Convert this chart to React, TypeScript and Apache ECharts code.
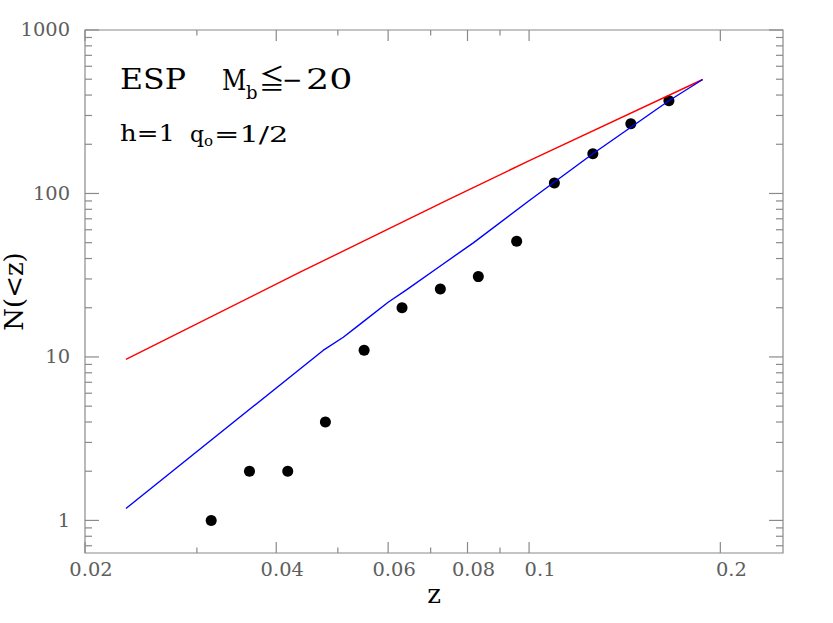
import React, { useEffect, useRef } from 'react';
import * as echarts from 'echarts';

// ---- data ----
const zData = [0.0316, 0.0363, 0.0417, 0.0478, 0.055, 0.0631, 0.0725, 0.0832, 0.0956, 0.1096, 0.126, 0.1446, 0.166];
const nData = [1, 2, 2, 4, 11, 20, 26, 31, 51, 116, 175, 267, 369];

const redZ = [0.0232, 0.0436, 0.0742, 0.1001, 0.1876];
const redN = [9.66, 33.0, 90.6, 159, 498];

const blueZ = [0.0232, 0.0474, 0.051, 0.0539, 0.06, 0.0642, 0.0724, 0.0817, 0.1001, 0.126, 0.166, 0.1876];
const blueN = [1.184, 10.96, 13.2, 15.6, 21.6, 25.8, 35.9, 49.9, 90.6, 175, 369, 498];

const xMajorTicks = [0.02, 0.04, 0.06, 0.08, 0.1, 0.2];
const xMinorTicks = [0.03, 0.05, 0.07, 0.09];
const xTickLabels = ['0.02', '0.04', '0.06', '0.08', '0.1', '0.2'];

const yMajorTicks = [1, 10, 100, 1000];
const yMinorTicks = [0.7, 0.8, 0.9, 2, 3, 4, 5, 6, 7, 8, 9, 20, 30, 40, 50, 60, 70, 80, 90, 200, 300, 400, 500, 600, 700, 800, 900];
const yTickLabels = ['1', '10', '100', '1000'];

const X_MIN = 0.02;
const X_MAX = 0.251;
const Y_MIN = 0.632;
const Y_MAX = 1000;

const FONT = "'DejaVu Serif', 'Noto Sans CJK JP', serif";
const GREY = '#8a8a8a';
const LABEL_GREY = '#5e5e5e';

function txt(text: string, x: number, y: number, size: number, scaleX = 1) {
  return {
    type: 'text',
    x,
    y,
    scaleX,
    style: { text, fill: '#000', font: `${size}px ${FONT}`, align: 'left', verticalAlign: 'middle' },
  };
}

export default function App() {
  const ref = useRef<HTMLDivElement>(null);

  useEffect(() => {
    if (!ref.current) return;
    const chart = echarts.init(ref.current, undefined, { renderer: 'svg' });

    const xTickData = [
      ...xMajorTicks.map((v) => [v, Y_MIN, 1]),
      ...xMinorTicks.map((v) => [v, Y_MIN, 0]),
    ];
    const yTickData = [
      ...yMajorTicks.map((v) => [X_MIN, v, 1]),
      ...yMinorTicks.map((v) => [X_MIN, v, 0]),
    ];

    const option: any = {
      animation: false,
      backgroundColor: '#ffffff',
      grid: {
        left: 85,
        right: 50,
        top: 30,
        bottom: 70,
        show: true,
        borderColor: GREY,
        borderWidth: 1.2,
        backgroundColor: 'transparent',
        containLabel: false,
        outerBoundsMode: 'none',
      },
      xAxis: {
        type: 'log',
        logBase: 10,
        min: X_MIN,
        max: X_MAX,
        name: 'z',
        nameLocation: 'middle',
        nameGap: 28,
        nameTextStyle: { fontFamily: FONT, fontSize: 26, color: '#000' },
        axisLine: { show: false },
        axisTick: { show: false },
        axisLabel: { show: false },
        splitLine: { show: false },
      },
      yAxis: {
        type: 'log',
        logBase: 10,
        min: Y_MIN,
        max: Y_MAX,
        name: 'N(<z)',
        nameLocation: 'middle',
        nameGap: 58,
        nameTextStyle: { fontFamily: FONT, fontSize: 26, color: '#000' },
        axisLine: { show: false },
        axisTick: { show: false },
        axisLabel: { show: false },
        splitLine: { show: false },
      },
      series: [
        {
          type: 'custom',
          name: 'xticks',
          silent: true,
          clip: false,
          data: xTickData,
          renderItem: (params: any, api: any) => {
            const v = api.value(0);
            const major = api.value(2);
            const b = api.coord([v, Y_MIN]);
            const t = api.coord([v, Y_MAX]);
            const len = major ? 11 : 5.5;
            const children: any[] = [
              { type: 'line', shape: { x1: b[0], y1: b[1], x2: b[0], y2: b[1] - len }, style: { stroke: GREY, lineWidth: 1.2 } },
              { type: 'line', shape: { x1: t[0], y1: t[1], x2: t[0], y2: t[1] + len }, style: { stroke: GREY, lineWidth: 1.2 } },
            ];
            if (major) {
              const label = xTickLabels[params.dataIndex];
              const shift = label.length <= 3 ? 11 : 6;
              children.push({
                type: 'text',
                x: b[0] + shift,
                y: b[1] + 17,
                scaleX: 1.08,
                style: { text: label, fill: LABEL_GREY, font: `18px ${FONT}`, align: 'center', verticalAlign: 'middle' },
              });
            }
            return { type: 'group', children };
          },
        },
        {
          type: 'custom',
          name: 'yticks',
          silent: true,
          clip: false,
          data: yTickData,
          renderItem: (params: any, api: any) => {
            const v = api.value(1);
            const major = api.value(2);
            const l = api.coord([X_MIN, v]);
            const r = api.coord([X_MAX, v]);
            const len = major ? 14 : 7;
            const children: any[] = [
              { type: 'line', shape: { x1: l[0], y1: l[1], x2: l[0] + len, y2: l[1] }, style: { stroke: GREY, lineWidth: 1.2 } },
              { type: 'line', shape: { x1: r[0], y1: r[1], x2: r[0] - len, y2: r[1] }, style: { stroke: GREY, lineWidth: 1.2 } },
            ];
            if (major) {
              const label = yTickLabels[params.dataIndex];
              children.push({
                type: 'text',
                x: l[0] - 15,
                y: l[1],
                scaleX: 1.08,
                style: { text: label, fill: LABEL_GREY, font: `18px ${FONT}`, align: 'right', verticalAlign: 'middle' },
              });
            }
            return { type: 'group', children };
          },
        },
        {
          type: 'line',
          name: 'red',
          data: redZ.map((z, i) => [z, redN[i]]),
          showSymbol: false,
          symbol: 'none',
          lineStyle: { color: '#ff0000', width: 1.4 },
          silent: true,
        },
        {
          type: 'line',
          name: 'blue',
          data: blueZ.map((z, i) => [z, blueN[i]]),
          showSymbol: false,
          symbol: 'none',
          lineStyle: { color: '#0000ff', width: 1.4 },
          silent: true,
        },
        {
          type: 'scatter',
          name: 'ESP',
          data: zData.map((z, i) => [z, nData[i]]),
          symbol: 'circle',
          symbolSize: 11,
          itemStyle: { color: '#000000', opacity: 1 },
          silent: true,
        },
      ],
      graphic: [
        txt('ESP', 120, 80, 27, 1.17),
        txt('M', 222, 80, 27, 0.88),
        txt('b', 246, 92, 18),
        txt('≦', 259, 80, 27, 0.95),
        txt('−', 282, 80, 27, 0.9),
        txt('20', 306, 80, 27, 1.35),
        txt('h=1', 120, 134, 22, 1.18),
        txt('q', 190, 134, 22),
        txt('o', 204, 141, 15),
        txt('=1/2', 214, 134, 22, 1.38),
      ],
    };

    chart.setOption(option);
    return () => {
      chart.dispose();
    };
  }, []);

  return <div ref={ref} style={{ position: 'fixed', left: 0, top: 0, width: 833, height: 623 }} />;
}
